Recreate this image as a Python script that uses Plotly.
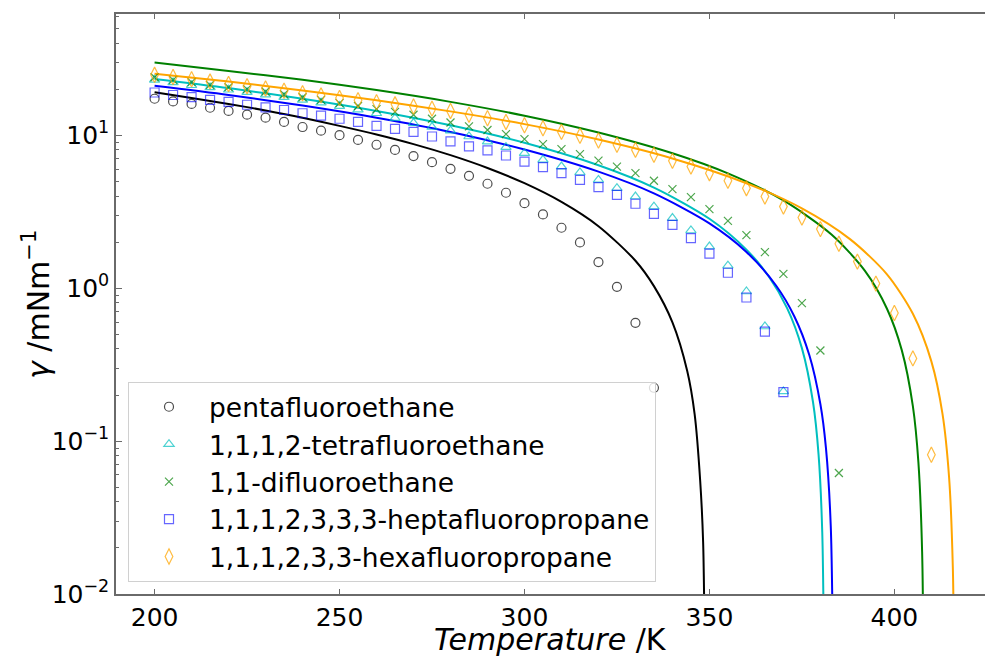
import plotly.graph_objects as go

# ---------------- data ----------------
T_pfe = [200, 205, 210, 215, 220, 225, 230, 235, 240, 245, 250, 255, 260, 265,
         270, 275, 280, 285, 290, 295, 300, 305, 310, 315, 320, 325, 330, 335]
g_pfe = [17.3, 16.6, 16.0, 15.1, 14.4, 13.6, 13.0, 12.2, 11.3, 10.7, 10.0, 9.3,
         8.65, 8.0, 7.3, 6.66, 6.02, 5.42, 4.81, 4.2, 3.59, 3.03, 2.48, 1.99,
         1.48, 1.02, 0.593, 0.223]

T_tfe = [200, 205, 210, 215, 220, 225, 230, 235, 240, 245, 250, 255, 260, 265,
         270, 275, 280, 285, 290, 295, 300, 305, 310, 315, 320, 325, 330, 335,
         340, 345, 350, 355, 360, 365, 370]
g_tfe = [23.0, 22.1, 21.2, 20.5, 19.8, 19.1, 18.4, 17.7, 17.0, 16.3, 15.5, 14.7,
         13.9, 12.9, 12.0, 11.3, 10.7, 9.8, 9.08, 8.35, 7.63, 6.9, 6.23, 5.70,
         5.10, 4.50, 3.97, 3.41, 2.87, 2.38, 1.87, 1.40, 0.95, 0.561, 0.211]

T_dfe = [200, 205, 210, 215, 220, 225, 230, 235, 240, 245, 250, 255, 260, 265,
         270, 275, 280, 285, 290, 295, 300, 305, 310, 315, 320, 325, 330, 335,
         340, 345, 350, 355, 360, 365, 370, 375, 380, 385]
g_dfe = [23.9, 23.0, 22.2, 21.3, 20.6, 20.0, 19.3, 18.5, 17.7, 17.0, 16.2, 15.5,
         14.8, 14.2, 13.6, 12.8, 12.1, 11.4, 10.8, 10.15, 9.42, 8.74, 8.1, 7.51,
         6.82, 6.23, 5.64, 5.03, 4.44, 3.93, 3.28, 2.75, 2.22, 1.72, 1.24, 0.798,
         0.391, 0.0618]

T_hfp7 = [200, 205, 210, 215, 220, 225, 230, 235, 240, 245, 250, 255, 260, 265,
          270, 275, 280, 285, 290, 295, 300, 305, 310, 315, 320, 325, 330, 335,
          340, 345, 350, 355, 360, 365, 370]
g_hfp7 = [19.0, 18.3, 17.7, 17.0, 16.5, 15.8, 15.2, 14.6, 13.9, 13.4, 12.8, 12.2,
          11.5, 11.0, 10.5, 9.8, 9.1, 8.45, 7.95, 7.36, 6.72, 6.18, 5.64, 5.10,
          4.57, 4.07, 3.56, 3.06, 2.59, 2.12, 1.68, 1.26, 0.868, 0.52, 0.209]

T_hfp6 = [200, 205, 210, 215, 220, 225, 230, 235, 240, 245, 250, 255, 260, 265,
          270, 275, 280, 285, 290, 295, 300, 305, 310, 315, 320, 325, 330, 335,
          340, 345, 350, 355, 360, 365, 370, 375, 380, 385, 390, 395, 400, 405, 410]
g_hfp6 = [24.8, 24.0, 23.2, 22.4, 21.6, 20.9, 20.2, 19.5, 18.8, 18.2, 17.5, 16.9,
          16.4, 15.9, 15.4, 14.9, 14.4, 13.6, 12.9, 12.2, 11.6, 11.1, 10.5, 9.9,
          9.22, 8.64, 8.01, 7.43, 6.79, 6.23, 5.64, 5.03, 4.5, 3.97, 3.41, 2.89,
          2.43, 1.95, 1.49, 1.07, 0.687, 0.347, 0.0813]

# model curves
Tl_pfe = [200, 210, 220, 230, 240, 250, 260, 270, 280, 290, 300, 310, 320, 330,
          335, 340, 344, 346, 347.5, 348.3, 348.8]
gl_pfe = [19.1, 17.5, 16.0, 14.5, 13.0, 11.5, 10.1, 8.74, 7.40, 6.10, 4.85, 3.66,
          2.54, 1.51, 1.03, 0.597, 0.287, 0.150, 0.055, 0.0217, 0.0024]

Tl_tfe = [200, 220, 240, 260, 280, 300, 320, 335, 350, 360, 366, 371, 375, 378,
          379.5, 380.5, 381.0]
gl_tfe = [23.3, 20.3, 17.3, 14.4, 11.6, 8.92, 6.36, 4.54, 2.84, 1.785, 1.196,
          0.740, 0.405, 0.180, 0.0819, 0.0253, 0.0030]

Tl_dfe = [200, 220, 240, 260, 280, 300, 320, 340, 355, 370, 383, 392, 398, 402,
          405, 406.5, 407.5, 407.9]
gl_dfe = [29.8, 26.3, 23.0, 19.7, 16.5, 13.4, 10.4, 7.61, 5.62, 3.74, 2.24, 1.30,
          0.733, 0.393, 0.169, 0.0723, 0.0189, 0.0026]

Tl_hfp7 = [200, 220, 240, 260, 280, 300, 320, 335, 350, 360, 368, 373, 377, 380,
           381.5, 382.8, 383.5]
gl_hfp7 = [21.0, 18.3, 15.6, 13.0, 10.5, 8.05, 5.77, 4.16, 2.65, 1.724, 1.04,
           0.650, 0.365, 0.174, 0.0903, 0.0279, 0.0022]

Tl_hfp6 = [200, 220, 240, 260, 280, 300, 320, 340, 360, 375, 388, 398, 405, 410,
           413, 414.8, 415.8, 416.2]
gl_hfp6 = [25.2, 22.4, 19.6, 16.9, 14.3, 11.8, 9.36, 7.04, 4.85, 3.32, 2.09, 1.23,
           0.679, 0.332, 0.151, 0.0574, 0.0150, 0.0021]

names = ["pentafluoroethane", "1,1,1,2-tetrafluoroethane", "1,1-difluoroethane",
         "1,1,1,2,3,3,3-heptafluoropropane", "1,1,1,2,3,3-hexafluoropropane"]

x_ticks = [200, 250, 300, 350, 400]
y_ticks = [0.01, 0.1, 1, 10]
y_ticktext = ["10<sup>\u22122</sup>", "10<sup>\u22121</sup>", "10<sup>0</sup>", "10<sup>1</sup>"]
y_minor = [0.02, 0.03, 0.04, 0.05, 0.06, 0.07, 0.08, 0.09,
           0.2, 0.3, 0.4, 0.5, 0.6, 0.7, 0.8, 0.9,
           2, 3, 4, 5, 6, 7, 8, 9, 20, 30, 40, 50, 60]

# ---------------- figure ----------------
FONT = "DejaVu Sans"
L, R, T, B, W, H = 116, 0, 14, 63, 985, 657
PW, PH = W - L - R, H - T - B

fig = go.Figure()

line_sets = [(Tl_pfe, gl_pfe, "#000000"), (Tl_tfe, gl_tfe, "#00BFBF"),
             (Tl_dfe, gl_dfe, "#008000"), (Tl_hfp7, gl_hfp7, "#0000FF"),
             (Tl_hfp6, gl_hfp6, "#FFA500")]
for tx, gy, c in line_sets:
    fig.add_trace(go.Scatter(x=tx, y=gy, mode="lines", showlegend=False,
                             line=dict(color=c, width=2, shape="spline", smoothing=0.8),
                             hoverinfo="skip"))

marker_sets = [
    (T_pfe, g_pfe, "rgba(0,0,0,0.7)", "circle-open", 9),
    (T_tfe, g_tfe, "rgba(0,191,191,0.7)", "triangle-up-open", 9),
    (T_dfe, g_dfe, "rgba(0,128,0,0.7)", "x-thin-open", 8),
    (T_hfp7, g_hfp7, "rgba(0,0,255,0.6)", "square-open", 9),
    (T_hfp6, g_hfp6, "rgba(255,165,0,0.75)", "diamond-tall-open", 11),
]
for (tx, gy, c, sym, sz), nm in zip(marker_sets, names):
    fig.add_trace(go.Scatter(x=tx, y=gy, mode="markers", name=nm,
                             marker=dict(symbol=sym, size=sz, color=c,
                                         line=dict(color=c, width=1.2))))

axis_col = "#6a6a6a"
fig.update_layout(
    width=W, height=H,
    margin=dict(l=L, r=R, t=T, b=B),
    paper_bgcolor="white", plot_bgcolor="white",
    font=dict(family=FONT, size=25, color="black"),
    showlegend=True,
    legend=dict(x=(128 - L) / PW, y=(H - B - 582) / PH, xanchor="left", yanchor="bottom",
                bgcolor="rgba(255,255,255,0.8)", bordercolor="#d0d0d0", borderwidth=1,
                font=dict(family=FONT, size=26.5, color="black"),
                itemwidth=70, tracegroupgap=0),
    xaxis=dict(range=[189.57, 424.5], tickvals=x_ticks, ticks="inside", ticklen=5,
               tickcolor=axis_col, tickwidth=1.2, showline=True, linecolor=axis_col,
               linewidth=1.5, mirror="ticks", showgrid=False, zeroline=False,
               tickfont=dict(family=FONT, size=25)),
    yaxis=dict(type="log", range=[-2, 1.792], tickmode="array", tickvals=y_ticks,
               ticktext=y_ticktext, ticks="inside", ticklen=6, tickcolor=axis_col,
               tickwidth=1.2, showline=True, linecolor=axis_col, linewidth=1.5,
               showgrid=False, zeroline=False, tickfont=dict(family=FONT, size=25),
               minor=dict(tickmode="array", tickvals=y_minor, ticks="inside",
                          ticklen=3, tickcolor=axis_col, showgrid=False)),
    annotations=[
        dict(text="<i>Temperature</i> /K", x=0.5, y=-(639 - (H - B)) / PH,
             xref="paper", yref="paper", xanchor="center", yanchor="middle",
             showarrow=False, font=dict(family=FONT, size=30, color="black")),
        dict(text="<i>\u03b3</i> /mNm<sup>\u22121</sup>", x=(37 - L) / PW,
             y=(H - B - 305) / PH, xref="paper", yref="paper",
             xanchor="center", yanchor="middle", showarrow=False, textangle=-90,
             font=dict(family=FONT, size=30, color="black")),
    ],
)

fig.write_html("out.html")
